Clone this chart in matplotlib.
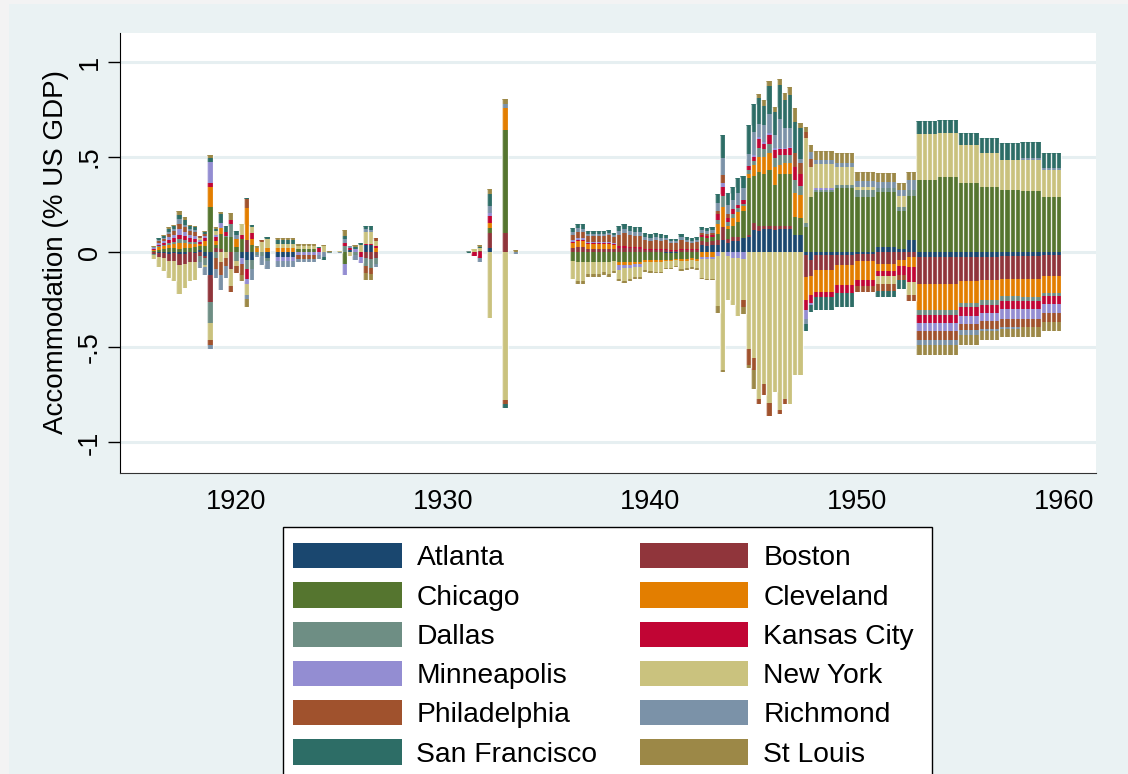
import numpy as np
import matplotlib.pyplot as plt
from matplotlib.patches import Patch, Rectangle

plt.rcParams["font.family"] = ["Liberation Sans", "DejaVu Sans"]

# quarterly bar positions (decimal years)
dates_early = list(np.arange(1916.0, 1927.0, 0.25))
dates_mid = [1931.25, 1931.5, 1931.75, 1932.25, 1933.0, 1933.5]
dates_late = list(np.arange(1936.25, 1960.0, 0.25))
dates = np.array(dates_early + dates_mid + dates_late)

districts = ["Atlanta", "Boston", "Chicago", "Cleveland", "Dallas", "Kansas City",
             "Minneapolis", "New York", "Philadelphia", "Richmond", "San Francisco", "St Louis"]
colors = ["#1a476f", "#90353b", "#55752f", "#e37e00", "#6e8e84", "#c10534",
          "#938dd2", "#cac27e", "#a0522d", "#7b92a8", "#2d6d66", "#9c8847"]

# accommodation by district, % of US GDP
atlanta = [
    0, -.005, -.005, -.01, -.005, -.01, -.01, 0, -.005, .01, -.02, -.12,
    0, 0, 0, 0, 0, -.03, -.04, -.04, 0, 0, -.03, 0,
    -.025, -.025, -.025, -.025, 0, 0, 0, 0,
    0, 0, 0, 0, 0, 0, .01, 0, 0, .035, .035, 0,
    0, 0, 0, .023, 0, 0,
    0, 0, 0, 0, 0, 0, 0, 0, 0, 0, 0, 0,
    0, 0, 0, 0, 0, 0, -.005, -.005, -.005, 0, 0, 0,
    0, .035, .03, .035, .037, .063, .05, .06, .06, .075, .08, .115,
    .11, .12, .12, .115, .12, .12, .12, .09, .09, -.016, -.04,
    -.015, -.015, -.015, -.015, -.015, -.015, -.015, -.015,
    -.008, -.008, -.008, -.008, .025, .025, .025, .025, .014, .014, .063, .063,
    -.025, -.025, -.025, -.025, -.025, -.025, -.025, -.025, -.025, -.025, -.025, -.025,
    -.025, -.025, -.025, -.025, -.02, -.02, -.02, -.02, -.02, -.02, -.02, -.02,
    -.015, -.015, -.015, -.015,
]
boston = [
    -.01, -.02, -.025, -.035, -.04, -.06, -.05, -.05, -.045, -.02, -.01, -.14,
    .02, .015, 0, -.09, 0, 0, .065, 0, 0, 0, 0, 0,
    0, 0, 0, 0, 0, 0, 0, 0,
    0, 0, 0, 0, 0, 0, 0, 0, 0, -.03, -.035, -.03,
    0, 0, .008, .08, .10, 0,
    .02, .025, .025, .015, .015, .015, .015, .015, .015, .02, .02, .02,
    .02, .015, .01, .01, .01, .01, .01, .008, .008, .01, .01, .01,
    .01, .025, .025, .025, .026, .07, .02, .02, .02, 0, .01, .04,
    .03, .02, .02, .02, .02, .02, .02, 0, 0, -.114, -.088,
    -.08, -.08, -.08, -.08, -.053, -.053, -.053, -.053,
    -.037, -.037, -.037, -.037, -.06, -.06, -.06, -.06, -.039, -.039, -.025, -.025,
    -.14, -.14, -.14, -.14, -.14, -.14, -.14, -.14, -.125, -.125, -.125, -.125,
    -.12, -.12, -.12, -.12, -.12, -.12, -.12, -.12, -.12, -.12, -.12, -.12,
    -.109, -.109, -.109, -.109,
]
chicago = [
    .005, .01, .015, .02, .02, .015, .02, .02, .025, .02, .03, .235,
    .02, .08, .08, .08, .025, .07, 0, .04, 0, 0, 0, 0,
    0, 0, 0, 0, .015, .015, .015, .015,
    0, 0, 0, 0, 0, -.06, 0, 0, 0, 0, 0, 0,
    0, 0, 0, .026, .54, 0,
    -.045, -.05, -.05, -.05, -.05, -.05, -.05, -.05, -.045, -.05, -.05, -.05,
    -.05, -.05, -.04, -.04, -.04, -.04, -.035, -.035, -.03, -.035, -.035, -.03,
    -.035, .02, .02, .02, .035, 0, .05, .06, .08, .14, .30, .245,
    .28, .27, .29, .22, .27, .27, .27, .096, .09, .133, .29,
    .318, .318, .318, .318, .335, .335, .335, .335,
    .29, .29, .29, .29, .293, .293, .293, .293, .20, .20, .23, .23,
    .38, .38, .38, .38, .396, .396, .396, .396, .365, .365, .365, .365,
    .344, .344, .344, .344, .326, .326, .326, .326, .323, .323, .323, .323,
    .29, .29, .29, .29,
]
cleveland = [
    .005, .015, .015, .02, .025, .035, .03, .025, .02, .015, .03, .11,
    .02, .03, 0, 0, .045, 0, .165, .03, .02, 0, .02, 0,
    .02, .02, .02, .02, 0, 0, 0, 0,
    0, 0, 0, 0, 0, 0, 0, 0, 0, 0, 0, .02,
    0, 0, 0, .023, .12, 0,
    .03, .035, .035, .03, .03, .03, .03, .03, .025, -.02, -.015, -.015,
    -.01, -.01, -.01, -.01, -.012, -.012, -.006, -.006, -.005, -.01, -.01, -.01,
    -.01, -.025, -.025, -.025, .05, .105, .02, .04, .05, .03, .02, .06,
    .08, .09, .09, .09, .05, .06, .06, .123, .12, -.123, -.096,
    -.114, -.114, -.114, -.114, -.105, -.105, -.105, -.105,
    -.10, -.10, -.10, -.10, -.04, -.04, -.04, -.04, -.035, -.035, -.053, -.053,
    -.137, -.137, -.137, -.137, -.137, -.137, -.137, -.137, -.118, -.118, -.118, -.118,
    -.105, -.105, -.105, -.105, -.093, -.093, -.093, -.093, -.096, -.096, -.096, -.096,
    -.091, -.091, -.091, -.091,
]
dallas = [
    -.005, .005, .005, .01, .01, .02, .015, .01, .01, -.03, -.04, -.11,
    -.03, 0, .005, .07, -.045, 0, -.05, -.05, -.015, -.02, -.015, 0,
    0, 0, 0, 0, 0, 0, 0, 0,
    0, 0, -.005, 0, 0, .03, 0, -.015, 0, -.045, -.05, -.03,
    .004, 0, 0, 0, 0, 0,
    0, 0, 0, 0, 0, 0, 0, 0, 0, 0, 0, 0,
    0, 0, 0, 0, 0, 0, 0, 0, 0, 0, 0, 0,
    0, 0, 0, 0, .02, .056, .02, .02, .02, .01, .02, .02,
    .05, .04, .05, .05, .05, .04, .04, .07, .05, .018, 0,
    .009, .009, .009, .009, .018, .018, .018, .018,
    .035, .035, .035, .035, .018, .018, .018, .018, .025, .025, .032, .032,
    -.026, -.026, -.026, -.026, -.026, -.026, -.026, -.026, -.02, -.02, -.02, -.02,
    -.026, -.026, -.026, -.026, -.026, -.026, -.026, -.026, -.021, -.021, -.021, -.021,
    -.018, -.018, -.018, -.018,
]
kansas_city = [
    .005, .01, .015, .015, .02, .02, .02, .02, .015, .01, .015, .02,
    .02, 0, .02, .02, 0, .02, -.05, .03, 0, 0, 0, 0,
    0, 0, 0, 0, 0, 0, 0, 0,
    .02, 0, 0, 0, 0, .02, .01, 0, -.025, .01, .01, .01,
    0, -.02, -.03, .04, 0, 0,
    .005, .005, .005, .005, .005, .005, .005, .005, .005, .01, .01, .007,
    .005, .01, .005, .005, .005, .005, .005, .004, .004, .005, .005, .005,
    .005, .008, .008, .008, .03, .049, .02, .025, .02, .02, .025, .02,
    .045, .03, .045, .04, .03, .03, .035, .07, .06, -.053, -.044,
    -.026, -.026, -.026, -.026, -.044, -.044, -.044, -.044,
    -.032, -.032, -.032, -.032, -.023, -.023, -.023, -.023, -.047, -.047, -.079, -.079,
    -.044, -.044, -.044, -.044, -.044, -.044, -.044, -.044, -.046, -.046, -.046, -.046,
    -.044, -.044, -.044, -.044, -.04, -.04, -.04, -.04, -.044, -.044, -.044, -.044,
    -.039, -.039, -.039, -.039,
]
minneapolis = [
    .005, .01, .01, .015, .015, .03, .02, .015, .015, .01, .01, .11,
    .01, .03, 0, 0, 0, -.03, -.03, 0, 0, 0, 0, 0,
    -.02, -.02, -.02, -.02, -.015, -.015, -.015, -.015,
    -.015, 0, 0, 0, 0, -.06, 0, .015, -.03, 0, 0, 0,
    0, 0, 0, .014, 0, 0,
    .01, .01, .01, .005, .005, .005, .005, .005, .005, -.025, -.02, -.02,
    -.02, -.02, 0, 0, 0, 0, 0, 0, 0, 0, 0, 0,
    0, -.01, -.01, -.01, -.02, .018, -.02, -.03, -.03, -.035, 0, .01,
    .01, .01, .01, .01, .01, .01, .01, 0, 0, -.044, -.01,
    .008, .008, .008, .008, 0, 0, 0, 0,
    0, 0, 0, 0, 0, 0, 0, 0, 0, 0, 0, 0,
    -.044, -.044, -.044, -.044, -.044, -.044, -.044, -.044, -.042, -.042, -.042, -.042,
    -.044, -.044, -.044, -.044, -.053, -.053, -.053, -.053, -.05, -.05, -.05, -.05,
    -.049, -.049, -.049, -.049,
]
new_york = [
    -.02, -.055, -.07, -.09, -.105, -.15, -.13, -.10, -.095, .01, -.01, -.09,
    .02, -.05, -.03, -.09, -.03, .06, -.055, .03, 0, .055, .05, 0,
    .025, .025, .025, .025, .015, .015, .015, .015,
    0, .03, 0, 0, .004, 0, -.02, 0, .035, .06, .06, .03,
    0, .015, .012, -.345, -.775, 0,
    -.095, -.10, -.10, -.065, -.065, -.065, -.055, -.065, -.055, -.045, -.065, -.055,
    -.05, -.05, -.045, -.05, -.05, -.05, -.035, -.035, -.033, -.045, -.04, -.036,
    -.04, -.10, -.107, -.107, -.265, -.62, -.23, -.25, -.305, -.218, -.507, -.556,
    -.77, -.695, -.793, -.735, -.828, -.774, -.80, -.648, -.648, .447, .16,
    .13, .13, .13, .13, .096, .096, .096, .096,
    .018, .018, .018, .018, -.044, -.044, -.044, -.044, .058, .058, -.07, -.07,
    .24, .24, .24, .24, .228, .228, .228, .228, .198, .198, .198, .198,
    .175, .175, .175, .175, .158, .158, .158, .158, .161, .161, .161, .161,
    .144, .144, .144, .144,
]
philadelphia = [
    .004, .01, .01, .015, .02, .03, .025, .02, .02, .01, .01, -.03,
    -.06, -.07, -.045, -.03, -.035, -.06, .05, 0, 0, .01, 0, 0,
    0, 0, 0, 0, -.02, -.02, -.02, -.02,
    0, 0, 0, 0, 0, 0, 0, 0, 0, -.035, -.03, .015,
    0, 0, 0, 0, -.025, 0,
    .025, .03, .03, .03, .03, .03, .03, .035, .03, .06, .07, .065,
    .06, .06, .05, .045, .05, .045, .05, .035, .035, .05, .04, .035,
    .04, .015, .015, .015, .02, .044, .02, 0, 0, -.035, -.087, -.065,
    -.03, -.058, -.07, 0, -.025, -.026, 0, .07, .06, .035, .04,
    0, 0, 0, 0, 0, 0, 0, 0,
    -.03, -.03, -.03, -.03, -.035, -.035, -.035, -.035, -.026, -.026, -.03, -.03,
    -.044, -.044, -.044, -.044, -.044, -.044, -.044, -.044, -.032, -.032, -.032, -.032,
    -.04, -.04, -.04, -.04, -.044, -.044, -.044, -.044, -.044, -.044, -.044, -.044,
    -.044, -.044, -.044, -.044,
]
richmond = [
    .002, .005, .005, .01, .01, .025, .015, .01, .01, -.035, -.04, -.02,
    -.045, -.08, -.06, 0, .02, 0, -.02, -.055, -.01, -.05, -.045, 0,
    -.032, -.032, -.032, -.032, -.015, -.015, -.015, -.015,
    -.02, -.025, 0, 0, -.004, .02, .01, -.025, 0, .015, .01, -.02,
    0, 0, -.02, .035, .02, -.01,
    .015, .02, .018, .012, .012, .012, .012, .012, .01, .02, .02, .02,
    .02, .02, .015, .015, .015, .015, .01, .01, .01, .015, .01, .01,
    .01, .015, .012, .015, .04, .088, .05, .05, .06, .06, .06, .12,
    .07, .09, .10, .07, .15, .10, .10, 0, .02, -.026, .035,
    .018, .018, .018, .018, .021, .021, .021, .021,
    .032, .032, .032, .032, .035, .035, .035, .035, .03, .03, .056, .056,
    -.026, -.026, -.026, -.026, -.026, -.026, -.026, -.026, -.026, -.026, -.026, -.026,
    -.009, -.009, -.009, -.009, -.009, -.009, -.009, -.009, .009, .009, .009, .009,
    .009, .009, .009, .009,
]
san_francisco = [
    .002, .01, .01, .015, .015, .02, .025, .015, .015, 0, .01, .02,
    .01, .045, .03, 0, .02, 0, .005, .015, 0, 0, .01, 0,
    .02, .02, .02, .02, 0, 0, 0, 0,
    .005, -.015, 0, 0, 0, .015, 0, .01, .015, .02, .025, 0,
    -.007, 0, .008, .065, -.02, 0,
    .02, .025, .025, .013, .013, .013, .013, .013, .01, .025, .027, .025,
    .025, .025, .02, .018, .02, .02, .015, .01, .01, .015, .015, .015,
    .015, .015, .015, .015, .05, .122, .06, .07, .08, .065, .155, .15,
    .135, .10, .15, .12, .18, .15, .17, .167, .16, -.04, -.035,
    -.07, -.07, -.07, -.07, -.07, -.07, -.07, -.07,
    -.005, -.005, -.005, -.005, -.035, -.035, -.035, -.035, -.049, -.049, 0, 0,
    .07, .07, .07, .07, .07, .07, .07, .07, .065, .065, .065, .065,
    .079, .079, .079, .079, .088, .088, .088, .088, .084, .084, .084, .084,
    .079, .079, .079, .079,
]
st_louis = [
    .002, 0, .005, .01, .01, .02, .015, .01, .01, 0, .005, .015,
    .01, .01, 0, .035, 0, -.03, -.045, 0, .01, 0, 0, 0,
    .01, .01, .01, .01, .015, .015, .015, .015,
    0, .01, .005, 0, 0, .03, 0, .015, 0, -.035, -.03, 0,
    0, 0, .007, .028, .025, .01,
    0, -.015, -.015, -.015, -.015, -.015, -.015, -.015, -.01, -.01, -.01, -.01,
    -.01, -.01, -.01, -.01, -.01, -.01, -.005, -.005, -.005, -.01, -.01, -.01,
    -.01, -.005, -.005, -.005, -.035, -.01, 0, 0, 0, -.038, -.014, -.10,
    .02, .03, .025, .03, .03, .035, .045, .07, .027, .026, .04,
    .05, .05, .05, .05, .053, .053, .053, .053,
    .047, .047, .047, .047, .047, .047, .047, .047, .035, .035, .04, .04,
    -.053, -.053, -.053, -.053, -.053, -.053, -.053, -.053, -.053, -.053, -.053, -.053,
    -.047, -.047, -.047, -.047, -.042, -.042, -.042, -.042, -.05, -.05, -.05, -.05,
    -.047, -.047, -.047, -.047,
]

series = [atlanta, boston, chicago, cleveland, dallas, kansas_city,
          minneapolis, new_york, philadelphia, richmond, san_francisco, st_louis]
values = np.array(series, dtype=float)

bg = "#eaf2f3"
fig = plt.figure(figsize=(11.28, 7.74), dpi=100, facecolor=bg)
fig.patches.append(Rectangle((0, 0), 9 / 1128, 1, transform=fig.transFigure,
                             facecolor="#f3f3f3", edgecolor="none", zorder=0))
fig.patches.append(Rectangle((0, 1 - 4 / 774), 1, 4 / 774, transform=fig.transFigure,
                             facecolor="#f3f3f3", edgecolor="none", zorder=0))

ax = fig.add_axes([120 / 1128, 1 - 473 / 774, 976 / 1128, 440 / 774])
ax.set_facecolor("white")

# positive shares stack upward from zero, negative ones downward
bar_w = 0.25
up = np.zeros(len(dates))
down = np.zeros(len(dates))
for vals, col in zip(values, colors):
    pos = np.clip(vals, 0, None)
    neg = np.clip(vals, None, 0)
    ax.bar(dates, pos, bottom=up, width=bar_w, color=col, linewidth=0, zorder=2)
    ax.bar(dates, neg, bottom=down, width=bar_w, color=col, linewidth=0, zorder=2)
    up += pos
    down += neg

# light outline on the sides of each bar
drawn = (up - down) > 0
for side in (-bar_w / 2, bar_w / 2):
    ax.vlines(dates[drawn] + side, down[drawn], up[drawn], colors="white",
              linewidth=0.9, alpha=0.7, zorder=3)

ax.set_xlim(1914.4, 1961.55)
ax.set_ylim(-1.161, 1.152)

ax.set_xticks([1920, 1930, 1940, 1950, 1960])
ax.set_xticklabels(["1920", "1930", "1940", "1950", "1960"], fontsize=19.5)
ax.tick_params(axis="x", length=0, pad=11.5)
ax.set_yticks([-1, -0.5, 0, 0.5, 1])
ax.set_yticklabels(["-1", "-.5", "0", ".5", "1"], fontsize=19.5, rotation=90, va="center")
ax.tick_params(axis="y", length=8.5, width=1, pad=4)

ax.yaxis.grid(True, color="#e6eff1", linewidth=2.2, zorder=0)
ax.set_axisbelow(True)
for side in ["top", "right"]:
    ax.spines[side].set_visible(False)
ax.spines["left"].set_color("black")
ax.spines["bottom"].set_color("#333333")

fig.text(56 / 1128, 1 - 252 / 774, "Accommodation (% US GDP)", rotation=90,
         ha="center", va="center", fontsize=20)

# legend box runs off the bottom edge of the figure
fig.patches.append(Rectangle((283 / 1128, -0.02), (932 - 283) / 1128, 0.02 + 1 - 527 / 774,
                             transform=fig.transFigure, facecolor="white",
                             edgecolor="black", linewidth=1.0, zorder=1))

# legend laid out row by row: two columns
order = [0, 2, 4, 6, 8, 10, 1, 3, 5, 7, 9, 11]
handles = [Patch(facecolor=colors[i], edgecolor="none") for i in order]
labels = [districts[i] for i in order]
leg = fig.legend(handles, labels, loc="upper left", bbox_to_anchor=(293 / 1128, 1 - 543 / 774),
                 ncol=2, fontsize=20.3, frameon=False, handlelength=3.85, handleheight=1.0,
                 handletextpad=0.53, columnspacing=1.5, labelspacing=0.39,
                 borderpad=0, borderaxespad=0)
leg.set_zorder(5)

fig.savefig("out.png", dpi=100, facecolor=fig.get_facecolor())
